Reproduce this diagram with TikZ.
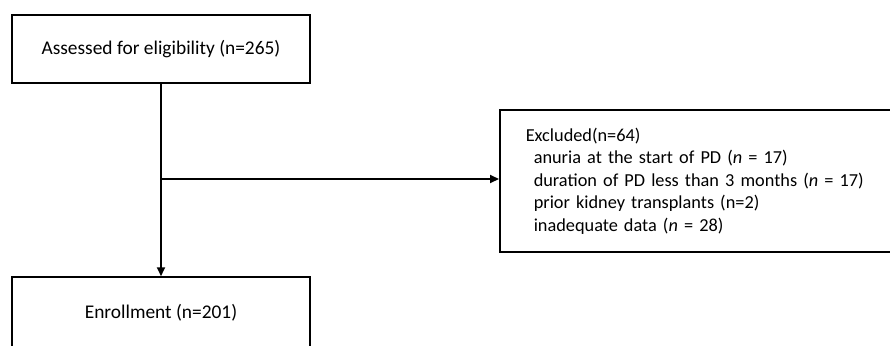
\documentclass[tikz,border=0pt]{standalone}
\usepackage{fontspec}
\setmainfont{Carlito}
\usetikzlibrary{arrows.meta}
\tikzset{
  flowbox/.style={draw, line width=1.5pt, minimum width=298pt, inner sep=0pt},
  flowline/.style={line width=2pt},
  flowarrow/.style={line width=2pt, -{Triangle[length=9pt,width=8pt]}}
}
\begin{document}
\begin{tikzpicture}[x=1pt,y=-1pt,font=\fontsize{19.4}{22.5}\selectfont]
\useasboundingbox (0,0) rectangle (890,345);
\clip (0,0) rectangle (890,345);
\node[flowbox, minimum height=68pt] (assess) at (161,49) {Assessed for eligibility (n=265)};
\node[flowbox, minimum height=72pt] (enroll) at (161,313) {Enrollment (n=201)};
\node[flowbox, anchor=west, minimum height=142pt, text width=380pt, inner xsep=26pt, align=left,
      font=\fontsize{18.3}{22.5}\selectfont] (excl) at (499,181)
  {Excluded(n=64)\\
   \hspace*{8pt}anuria at the start of PD (\textit{n} = 17)\\
   \hspace*{8pt}duration of PD less than 3 months (\textit{n} = 17)\\
   \hspace*{8pt}prior kidney transplants (n=2)\\
   \hspace*{8pt}inadequate data (\textit{n} = 28)};
\coordinate (branch) at (161,179);
\draw[flowarrow] (assess.south) -- (enroll.north);
\draw[flowarrow] (branch) -- (branch -| excl.west);
\end{tikzpicture}
\end{document}
